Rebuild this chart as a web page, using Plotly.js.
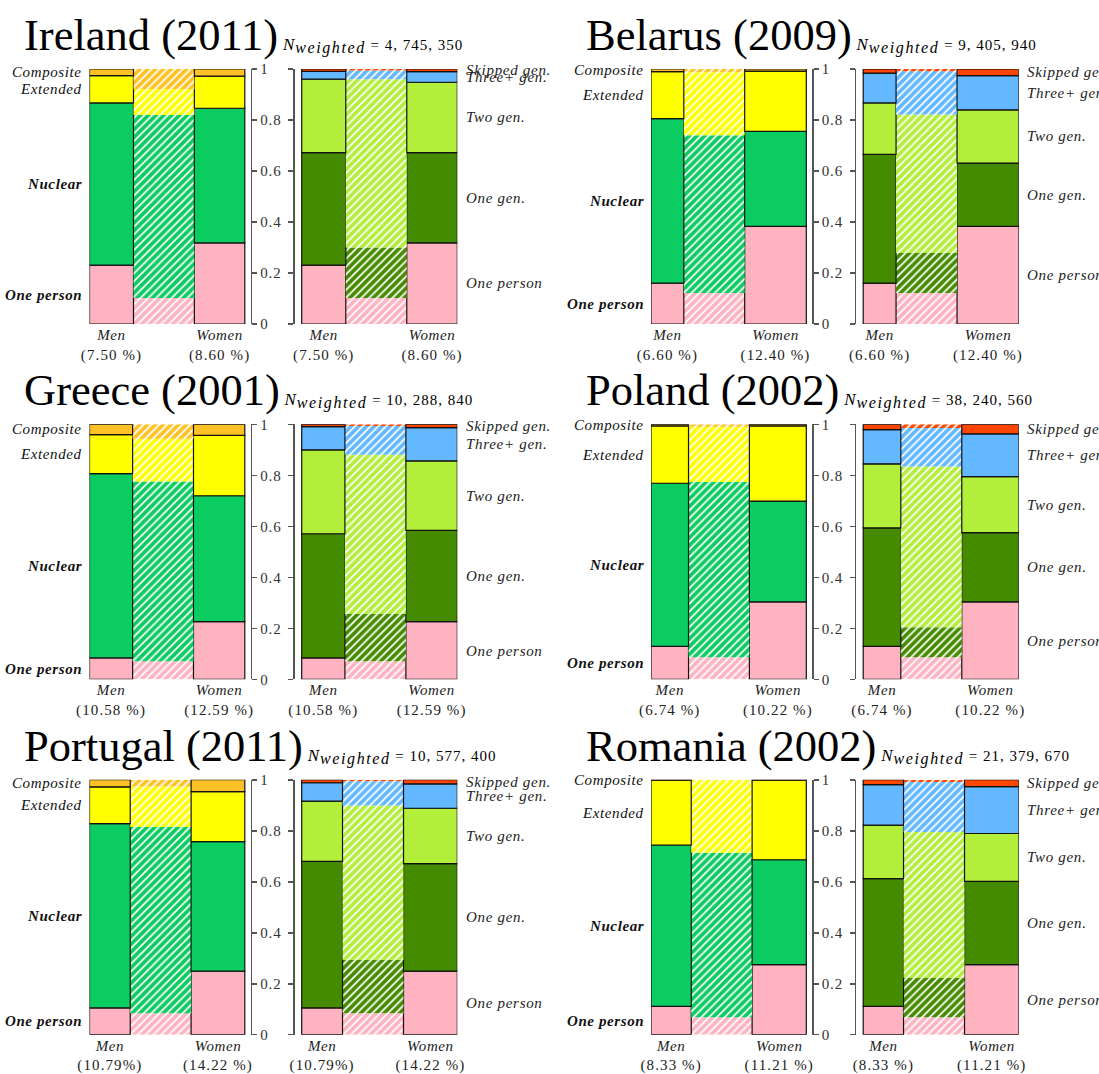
<!DOCTYPE html>
<html><head><meta charset="utf-8">
<script src="https://cdn.plot.ly/plotly-3.0.1.min.js"></script>
<style>body{margin:0;background:#fff}</style>
</head><body><div id="chart" style="width:1099px;height:1074px"></div>
<script>
// ---------------- DATA ----------------
const countries = ['Ireland (2011)', 'Belarus (2009)', 'Greece (2001)', 'Poland (2002)', 'Portugal (2011)', 'Romania (2002)'];
const nWeighted = ['4, 745, 350', '9, 405, 940', '10, 288, 840', '38, 240, 560', '10, 577, 400', '21, 379, 670'];
const menPct = [7.50, 6.60, 10.58, 6.74, 10.79, 8.33];
const womenPct = [8.60, 12.40, 12.59, 10.22, 14.22, 11.21];
const menPctLabel = ['(7.50 %)', '(6.60 %)', '(10.58 %)', '(6.74 %)', '(10.79%)', '(8.33 %)'];
const womenPctLabel = ['(8.60 %)', '(12.40 %)', '(12.59 %)', '(10.22 %)', '(14.22 %)', '(11.21 %)'];
const xLabels = ['Men', 'Women'];

const hhTypes = ['One person', 'Nuclear', 'Extended', 'Composite'];
const genTypes = ['One person', 'One gen.', 'Two gen.', 'Three+ gen.', 'Skipped gen.'];

// household type shares (One person, Nuclear, Extended, Composite)
const hhMen = [
  [0.231, 0.636, 0.107, 0.026],
  [0.160, 0.645, 0.185, 0.010],
  [0.084, 0.723, 0.153, 0.040],
  [0.129, 0.640, 0.225, 0.006],
  [0.105, 0.723, 0.144, 0.028],
  [0.111, 0.633, 0.254, 0.002]
];
const hhWomen = [
  [0.318, 0.528, 0.126, 0.028],
  [0.383, 0.372, 0.237, 0.008],
  [0.226, 0.494, 0.237, 0.043],
  [0.304, 0.395, 0.295, 0.006],
  [0.249, 0.508, 0.196, 0.047],
  [0.275, 0.411, 0.312, 0.002]
];
const hhAll = [
  [0.102, 0.718, 0.102, 0.078],
  [0.122, 0.618, 0.247, 0.013],
  [0.071, 0.705, 0.168, 0.056],
  [0.087, 0.687, 0.217, 0.009],
  [0.084, 0.731, 0.158, 0.027],
  [0.068, 0.646, 0.284, 0.002]
];
// generational shares (One person, One gen., Two gen., Three+ gen., Skipped gen.)
const genMen = [
  [0.231, 0.441, 0.288, 0.031, 0.009],
  [0.160, 0.505, 0.202, 0.117, 0.016],
  [0.084, 0.487, 0.329, 0.091, 0.009],
  [0.129, 0.465, 0.251, 0.134, 0.021],
  [0.105, 0.575, 0.236, 0.072, 0.012],
  [0.111, 0.501, 0.210, 0.159, 0.019]
];
const genWomen = [
  [0.318, 0.354, 0.276, 0.042, 0.010],
  [0.383, 0.248, 0.209, 0.134, 0.026],
  [0.226, 0.358, 0.273, 0.130, 0.013],
  [0.304, 0.271, 0.220, 0.168, 0.037],
  [0.249, 0.422, 0.217, 0.096, 0.016],
  [0.275, 0.326, 0.188, 0.184, 0.027]
];
const genAll = [
  [0.102, 0.198, 0.660, 0.034, 0.006],
  [0.122, 0.156, 0.544, 0.169, 0.009],
  [0.071, 0.185, 0.625, 0.113, 0.006],
  [0.087, 0.117, 0.631, 0.151, 0.014],
  [0.084, 0.209, 0.606, 0.095, 0.006],
  [0.068, 0.154, 0.573, 0.196, 0.009]
];
const yTickVals = [0, 0.2, 0.4, 0.6, 0.8, 1];
const yTickText = ['0', '0.2', '0.4', '0.6', '0.8', '1'];

// ---------------- STYLE ----------------
const hhColors = ['#FFB3C1', '#0ACC60', '#FFFF00', '#FFC125'];
const genColors = ['#FFB3C1', '#458B00', '#B3EE3A', '#63B8FF', '#FF4500'];
const boldLabels = ['One person', 'Nuclear'];
const FONT = 'Liberation Serif, Times New Roman, serif';
const W = 1099, H = 1074;
const COLW = 561.5, ROWH = 355.35;
const BAR = 0.608, GAP = 0.392;
const px = v => v / W, py = v => 1 - v / H;
const axName = (t, n) => t + 'axis' + (n === 1 ? '' : n);
const axRef = (t, n) => t + (n === 1 ? '' : n);
const spaced = (s, ls) => '<span style="letter-spacing:' + ls + 'px">' + s + '</span>';

const traces = [];
const annotations = [];
const layout = {
  width: W, height: H,
  margin: {l: 0, r: 0, t: 0, b: 0, pad: 0},
  paper_bgcolor: '#ffffff', plot_bgcolor: 'rgba(0,0,0,0)',
  showlegend: false, barmode: 'overlay',
  font: {family: FONT, color: '#111'},
  annotations: annotations
};

function cum(arr) { const out = [0]; arr.forEach(v => out.push(out[out.length - 1] + v)); return out; }

function addChart(n, menS, womS, allS, colors, geom) {
  const cm = cum(menS), cw = cum(womS), ca = cum(allS);
  const xr = axRef('x', n), yr = axRef('y', n);
  colors.forEach((col, k) => {
    traces.push({
      type: 'bar', xaxis: xr, yaxis: yr,
      x: [geom.gapC], width: [GAP], base: [ca[k]], y: [allS[k]],
      marker: {color: col, line: {width: 0},
        pattern: {shape: '/', fgcolor: '#ffffff', bgcolor: col, size: 5.5, solidity: 0.32, fillmode: 'replace'}},
      hoverinfo: 'skip', cliponaxis: false
    });
    traces.push({
      type: 'bar', xaxis: xr, yaxis: yr,
      x: [geom.menC, geom.womC], width: [geom.mw, geom.ww],
      base: [cm[k], cw[k]], y: [menS[k], womS[k]],
      marker: {color: col, line: {color: '#111', width: 1.2}},
      hoverinfo: 'skip', cliponaxis: false
    });
  });
  return {cm, cw};
}

countries.forEach((name, i) => {
  const c = i % 2, r = Math.floor(i / 2);
  const top = 69 + ROWH * r, bot = 324 + ROWH * r;
  const ox = COLW * c;
  const li = 2 * i + 1, ri = 2 * i + 2;
  const mw = BAR * menPct[i] / (menPct[i] + womenPct[i]);
  const ww = BAR - mw;
  const geom = {mw, ww, menC: mw / 2, gapC: mw + GAP / 2, womC: mw + GAP + ww / 2};
  const tickText = [
    spaced('<i>' + xLabels[0] + '</i>', 0.6) + '<br>' + spaced(menPctLabel[i], 1.1),
    spaced('<i>' + xLabels[1] + '</i>', 0.6) + '<br>' + spaced(womenPctLabel[i], 1.1)
  ];
  const ydom = [py(bot), py(top)];

  const xBase = {showgrid: false, zeroline: false, showline: false, ticks: '',
    tickvals: [geom.menC, geom.womC], ticktext: tickText,
    tickfont: {family: FONT, size: 15, color: '#222'}, fixedrange: true};
  layout[axName('x', li)] = Object.assign({}, xBase, {domain: [px(89.5 + ox), px(250.7 + ox)], range: [0, 1.038], anchor: axRef('y', li)});
  layout[axName('x', ri)] = Object.assign({}, xBase, {domain: [px(294.7 + ox), px(457.3 + ox)], range: [-0.045, 1], anchor: axRef('y', ri)});
  const yBase = {domain: ydom, range: [0, 1], showgrid: false, zeroline: false, showline: true,
    linecolor: '#555', linewidth: 1.6, ticks: 'outside', ticklen: 5, tickwidth: 1.6, tickcolor: '#555',
    tickvals: yTickVals, ticktext: yTickText.map(t => spaced(t, 0.8)), tickfont: {family: FONT, size: 15, color: '#333'}, fixedrange: true};
  layout[axName('y', li)] = Object.assign({}, yBase, {side: 'right', anchor: axRef('x', li), showticklabels: true});
  layout[axName('y', ri)] = Object.assign({}, yBase, {side: 'left', anchor: axRef('x', ri), showticklabels: false});

  const L = addChart(li, hhMen[i], hhWomen[i], hhAll[i], hhColors, geom);
  const R = addChart(ri, genMen[i], genWomen[i], genAll[i], genColors, geom);

  // title + N weighted
  const baseline = 51.5 + ROWH * r;
  annotations.push({
    xref: 'paper', yref: 'paper', x: px(23.2 + ox), y: py(baseline + 9.5), xanchor: 'left', yanchor: 'bottom',
    showarrow: false, borderpad: 0,
    text: name + '<span style="font-size:15px;letter-spacing:1px">\u00a0<span style="font-size:17px"><i>N</i></span><sub><span style="font-size:16px;letter-spacing:1.6px"><i>weighted</i></span></sub> = ' + nWeighted[i] + '</span>',
    font: {family: FONT, size: 44.5, color: '#000'}
  });
  // left labels (at Men segment midpoints)
  hhTypes.forEach((t, k) => {
    const txt = boldLabels.includes(t) ? '<b><i>' + t + '</i></b>' : '<i>' + t + '</i>';
    annotations.push({
      xref: 'paper', yref: axRef('y', li), x: px(83.2 + ox), y: (L.cm[k] + L.cm[k + 1]) / 2,
      xanchor: 'right', yanchor: 'middle', showarrow: false, borderpad: 0,
      text: spaced(txt, 0.6), font: {family: FONT, size: 15, color: '#111'}
    });
  });
  // right labels (at Women segment midpoints)
  genTypes.forEach((t, k) => {
    annotations.push({
      xref: 'paper', yref: axRef('y', ri), x: px(464.6 + ox), y: (R.cw[k] + R.cw[k + 1]) / 2,
      xanchor: 'left', yanchor: 'middle', showarrow: false, borderpad: 0,
      text: spaced('<i>' + t + '</i>', 0.7), font: {family: FONT, size: 15, color: '#222'}
    });
  });
});

Plotly.newPlot('chart', traces, layout, {staticPlot: true, displayModeBar: false});
</script>
</body></html>
